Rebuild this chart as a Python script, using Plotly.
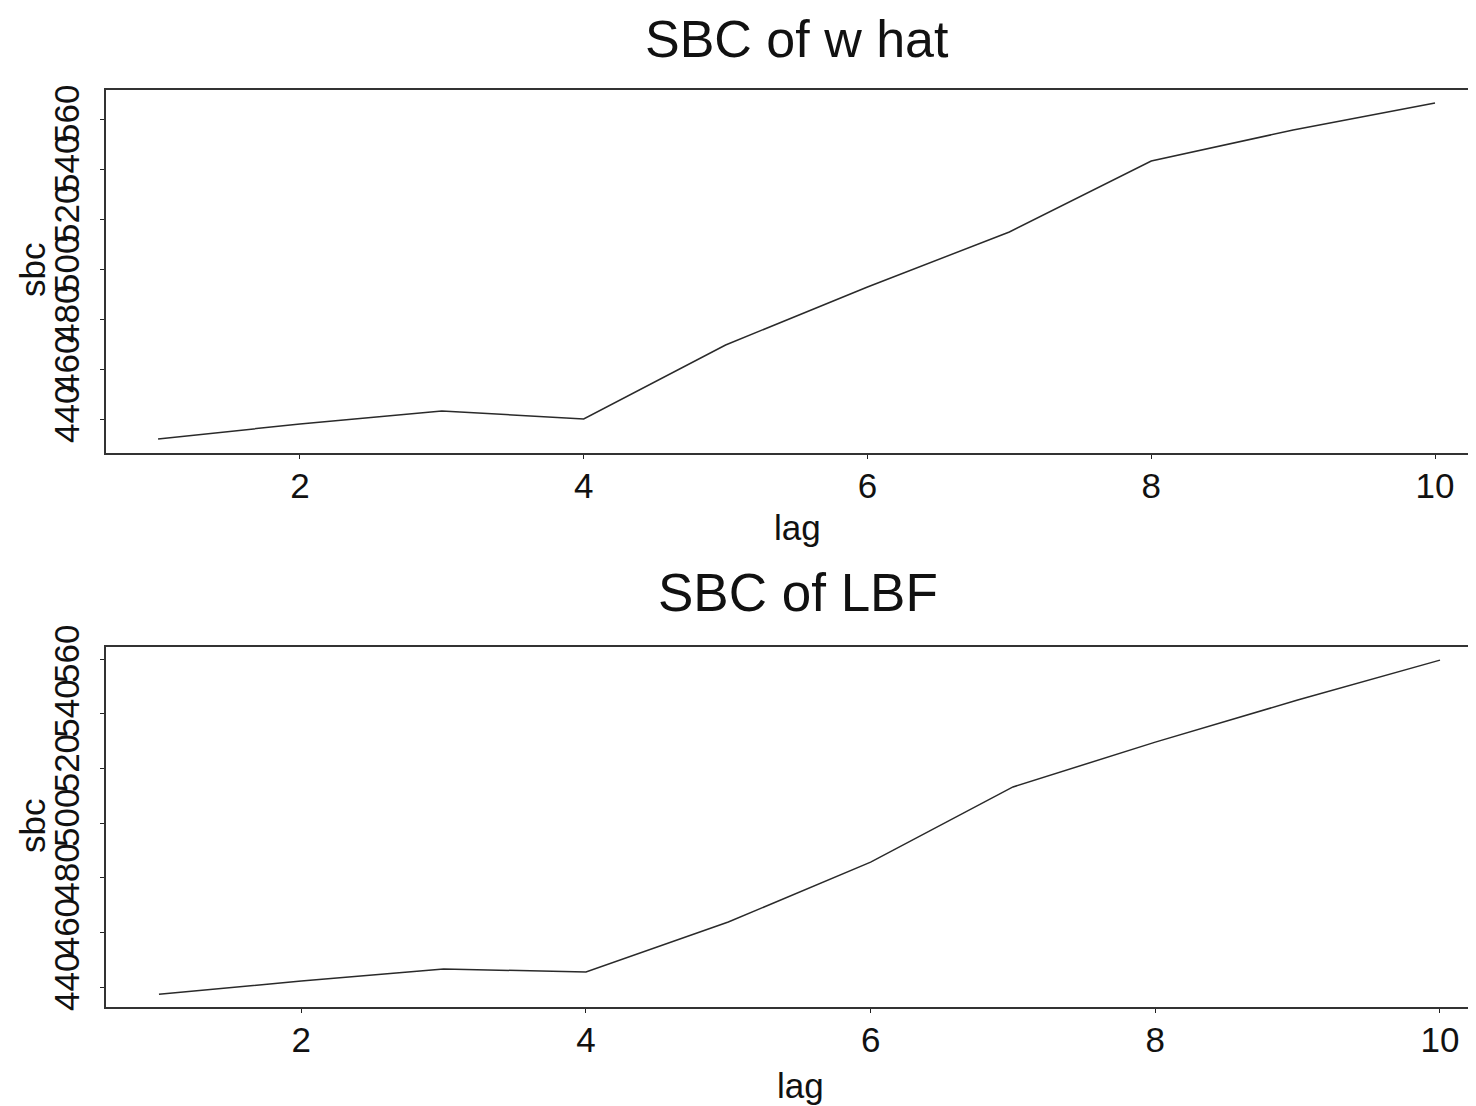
import plotly.graph_objects as go

lag = [1, 2, 3, 4, 5, 6, 7, 8, 9, 10]
sbc_w_hat = [432.0, 438.0, 443.2, 440.0, 469.6, 492.8, 514.8, 543.2, 555.6, 566.4]
sbc_lbf = [437.4, 442.2, 446.6, 445.5, 463.8, 485.7, 513.2, 529.6, 545.0, 559.6]
x_ticks = [2, 4, 6, 8, 10]
y_ticks = [440, 460, 480, 500, 520, 540, 560]

OFF = 8  # page body margin
W, H = 1476 - OFF, 1106 - OFF
FONT = "Liberation Sans, Arial, Helvetica, sans-serif"

fig = go.Figure()
fig.add_trace(go.Scatter(x=lag, y=sbc_w_hat, mode="lines", xaxis="x", yaxis="y",
                         line=dict(color="#2a2a2a", width=1.5), showlegend=False))
fig.add_trace(go.Scatter(x=lag, y=sbc_lbf, mode="lines", xaxis="x2", yaxis="y2",
                         line=dict(color="#2a2a2a", width=1.5), showlegend=False))

def px_x(p):
    return (p - OFF) / W

def px_y(p):
    return 1 - (p - OFF) / H

xax = dict(tickmode="array", tickvals=x_ticks, ticks="outside", ticklen=4, tickwidth=1.2,
           tickcolor="#222", showline=True, linecolor="#333", linewidth=1.5, mirror=True,
           showgrid=False, zeroline=False, automargin=False, ticklabelstandoff=-3,
           tickfont=dict(family=FONT, size=35, color="#111"),
           domain=[px_x(106), 1])
yax = dict(tickmode="array", tickvals=y_ticks, ticks="outside", ticklen=4, tickwidth=1.2,
           tickcolor="#222", showline=True, linecolor="#333", linewidth=1.5, mirror=False,
           showgrid=False, zeroline=False, tickangle=-90, automargin=False,
           ticklabelstandoff=7,
           tickfont=dict(family=FONT, size=35, color="#111"))

fig.update_layout(
    width=W, height=H, margin=dict(l=0, r=0, t=0, b=0, autoexpand=False),
    paper_bgcolor="white", plot_bgcolor="white",
    xaxis=dict(xax, range=[0.633, 10.289], anchor="y"),
    yaxis=dict(yax, range=[426.4, 571.6], domain=[px_y(453), px_y(90)], anchor="x"),
    xaxis2=dict(xax, range=[0.628, 10.253], anchor="y2"),
    yaxis2=dict(yax, range=[432.7, 564.4], domain=[px_y(1007), px_y(647)], anchor="x2"),
)

def ann(text, x, y, size, angle=0):
    fig.add_annotation(text=text, x=px_x(x), y=px_y(y), xref="paper", yref="paper",
                       showarrow=False, textangle=angle, xanchor="center", yanchor="middle",
                       borderpad=0, font=dict(family=FONT, size=size, color="#111"))

ann("SBC of w hat", 797, 39, 52)
ann("SBC of LBF", 798, 592, 53)
ann("lag", 797, 528, 35)
ann("lag", 800, 1085, 35)
ann("sbc", 32, 270, 35, -90)
ann("sbc", 32, 826, 35, -90)

fig.write_html("out.html")
